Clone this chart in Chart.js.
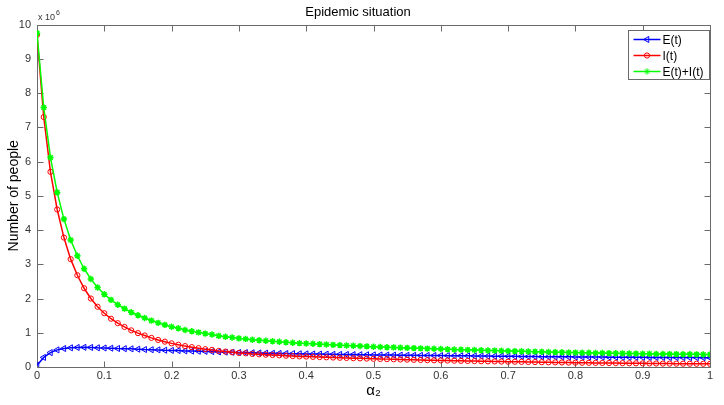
<!DOCTYPE html>
<html>
<head>
<meta charset="utf-8">
<script src="https://cdn.jsdelivr.net/npm/chart.js@4.4.1/dist/chart.umd.min.js"></script>
<style>
  body { margin: 0; background: #fff; }
  canvas { display: block; }
</style>
</head>
<body>
<canvas id="epidemic" width="724" height="405"></canvas>
<script>
// alpha_2 values (x axis)
const alpha = [
  0.00, 0.01, 0.02, 0.03, 0.04, 0.05, 0.06, 0.07, 0.08, 0.09,
  0.10, 0.11, 0.12, 0.13, 0.14, 0.15, 0.16, 0.17, 0.18, 0.19,
  0.20, 0.21, 0.22, 0.23, 0.24, 0.25, 0.26, 0.27, 0.28, 0.29,
  0.30, 0.31, 0.32, 0.33, 0.34, 0.35, 0.36, 0.37, 0.38, 0.39,
  0.40, 0.41, 0.42, 0.43, 0.44, 0.45, 0.46, 0.47, 0.48, 0.49,
  0.50, 0.51, 0.52, 0.53, 0.54, 0.55, 0.56, 0.57, 0.58, 0.59,
  0.60, 0.61, 0.62, 0.63, 0.64, 0.65, 0.66, 0.67, 0.68, 0.69,
  0.70, 0.71, 0.72, 0.73, 0.74, 0.75, 0.76, 0.77, 0.78, 0.79,
  0.80, 0.81, 0.82, 0.83, 0.84, 0.85, 0.86, 0.87, 0.88, 0.89,
  0.90, 0.91, 0.92, 0.93, 0.94, 0.95, 0.96, 0.97, 0.98, 0.99,
  1.00
];

// values in units of 10^6 people
const exposed = [
  0.05, 0.28, 0.42, 0.50, 0.54, 0.56, 0.57, 0.575, 0.57, 0.56,
  0.555, 0.55, 0.54, 0.535, 0.53, 0.52, 0.51, 0.505, 0.50, 0.49,
  0.485, 0.48, 0.47, 0.465, 0.46, 0.455, 0.45, 0.44, 0.435, 0.43,
  0.425, 0.42, 0.415, 0.41, 0.405, 0.40, 0.397, 0.393, 0.39, 0.386,
  0.383, 0.38, 0.377, 0.374, 0.371, 0.368, 0.365, 0.362, 0.359, 0.356,
  0.353, 0.351, 0.349, 0.347, 0.345, 0.343, 0.341, 0.339, 0.337, 0.335,
  0.333, 0.331, 0.329, 0.327, 0.325, 0.323, 0.321, 0.319, 0.317, 0.315,
  0.313, 0.311, 0.309, 0.307, 0.305, 0.303, 0.301, 0.299, 0.297, 0.296,
  0.295, 0.293, 0.292, 0.290, 0.289, 0.288, 0.287, 0.285, 0.284, 0.283,
  0.282, 0.281, 0.280, 0.279, 0.278, 0.277, 0.276, 0.275, 0.274, 0.273,
  0.272
];

const infected = [
  9.70, 7.30, 5.70, 4.60, 3.78, 3.15, 2.68, 2.30, 2.00, 1.76,
  1.57, 1.41, 1.28, 1.17, 1.07, 0.99, 0.92, 0.85, 0.79, 0.74,
  0.69, 0.65, 0.61, 0.58, 0.55, 0.52, 0.50, 0.47, 0.45, 0.43,
  0.41, 0.40, 0.38, 0.37, 0.36, 0.35, 0.34, 0.33, 0.32, 0.31,
  0.305, 0.297, 0.29, 0.283, 0.276, 0.27, 0.264, 0.258, 0.252, 0.246,
  0.24, 0.235, 0.23, 0.225, 0.22, 0.215, 0.21, 0.205, 0.20, 0.196,
  0.192, 0.188, 0.184, 0.18, 0.176, 0.172, 0.168, 0.165, 0.162, 0.159,
  0.156, 0.153, 0.15, 0.147, 0.144, 0.141, 0.138, 0.135, 0.132, 0.129,
  0.126, 0.124, 0.122, 0.12, 0.118, 0.116, 0.114, 0.112, 0.11, 0.108,
  0.106, 0.104, 0.102, 0.10, 0.099, 0.098, 0.097, 0.096, 0.095, 0.094,
  0.093
];

const total = [
  9.75, 7.58, 6.12, 5.10, 4.32, 3.71, 3.25, 2.87, 2.57, 2.32,
  2.125, 1.96, 1.82, 1.705, 1.60, 1.51, 1.43, 1.355, 1.29, 1.23,
  1.175, 1.13, 1.08, 1.045, 1.01, 0.975, 0.95, 0.91, 0.885, 0.86,
  0.835, 0.82, 0.795, 0.78, 0.765, 0.75, 0.737, 0.723, 0.71, 0.696,
  0.688, 0.677, 0.667, 0.657, 0.647, 0.638, 0.629, 0.62, 0.611, 0.602,
  0.593, 0.586, 0.579, 0.572, 0.565, 0.558, 0.551, 0.544, 0.537, 0.531,
  0.525, 0.519, 0.513, 0.507, 0.501, 0.495, 0.489, 0.484, 0.479, 0.474,
  0.469, 0.464, 0.459, 0.454, 0.449, 0.444, 0.439, 0.434, 0.429, 0.425,
  0.421, 0.417, 0.414, 0.41, 0.407, 0.404, 0.401, 0.397, 0.394, 0.391,
  0.388, 0.385, 0.382, 0.379, 0.377, 0.375, 0.373, 0.371, 0.369, 0.367,
  0.365
];

const seriesNames = ['E(t)', 'I(t)', 'E(t)+I(t)'];
const chartTitle = 'Epidemic situation';
const xTitle = 'α₂';
const yTitle = 'Number of people';

const FONT = 'Arial, "Liberation Sans", Helvetica, sans-serif';

function pts(values) {
  return values.map((v, i) => ({ x: alpha[i], y: v }));
}

// box, inward ticks, legend, exponent label
const matlabFrame = {
  id: 'matlabFrame',
  beforeDatasetsDraw(chart) {
    const { ctx, chartArea: a, scales } = chart;
    const L = Math.round(a.left) + 0.5, R = Math.round(a.right) + 0.5;
    const T = Math.round(a.top) + 0.5, B = Math.round(a.bottom) + 0.5;
    ctx.save();
    ctx.strokeStyle = '#6a6a6a';
    ctx.lineWidth = 1;
    ctx.beginPath();
    ctx.rect(L, T, R - L, B - T);
    scales.x.ticks.forEach(t => {
      const px = Math.round(scales.x.getPixelForValue(t.value)) + 0.5;
      ctx.moveTo(px, B); ctx.lineTo(px, B - 6);
      ctx.moveTo(px, T); ctx.lineTo(px, T + 6);
    });
    scales.y.ticks.forEach(t => {
      const py = Math.round(scales.y.getPixelForValue(t.value)) + 0.5;
      ctx.moveTo(L, py); ctx.lineTo(L + 6, py);
      ctx.moveTo(R, py); ctx.lineTo(R - 6, py);
    });
    ctx.stroke();
    ctx.restore();
  },
  afterDraw(chart) {
    const { ctx, chartArea: a } = chart;
    ctx.save();
    // exponent
    ctx.fillStyle = '#333';
    ctx.textBaseline = 'alphabetic';
    ctx.textAlign = 'left';
    ctx.font = '9px ' + FONT;
    ctx.fillText('x 10', a.left + 1, a.top - 5);
    const w = ctx.measureText('x 10').width;
    ctx.font = '7px ' + FONT;
    ctx.fillText('6', a.left + 2 + w, a.top - 10);

    // legend
    const bx = 628.5, by = 30.5, bw = 81, bh = 49;
    ctx.fillStyle = '#fff';
    ctx.fillRect(bx, by, bw, bh);
    ctx.strokeStyle = '#6a6a6a';
    ctx.lineWidth = 1;
    ctx.strokeRect(bx, by, bw, bh);
    chart.data.datasets.forEach((ds, i) => {
      const y = by + 9 + i * 16;
      ctx.strokeStyle = ds.borderColor;
      ctx.lineWidth = 1.5;
      ctx.beginPath();
      ctx.moveTo(bx + 5, y);
      ctx.lineTo(bx + 32, y);
      ctx.stroke();
      ctx.lineWidth = 1;
      ctx.fillStyle = 'rgba(0,0,0,0)';
      Chart.helpers.drawPoint(ctx, {
        pointStyle: ds.pointStyle,
        rotation: ds.pointRotation || 0,
        radius: ds.pointRadius,
        borderWidth: 1
      }, bx + 18.5, y);
      ctx.fillStyle = '#000';
      ctx.font = '12px ' + FONT;
      ctx.textBaseline = 'middle';
      ctx.fillText(ds.label, bx + 34, y + 1);
    });
    ctx.restore();
  }
};

const baseSet = {
  showLine: true,
  borderWidth: 1.5,
  pointBorderWidth: 1,
  pointBackgroundColor: 'rgba(0,0,0,0)',
  tension: 0
};

new Chart(document.getElementById('epidemic').getContext('2d'), {
  type: 'scatter',
  data: {
    datasets: [
      Object.assign({}, baseSet, {
        label: seriesNames[0], data: pts(exposed),
        borderColor: '#0000ff', pointBorderColor: '#0000ff',
        pointStyle: 'triangle', pointRotation: -90, pointRadius: 3.5, order: 3
      }),
      Object.assign({}, baseSet, {
        label: seriesNames[1], data: pts(infected),
        borderColor: '#ff0000', pointBorderColor: '#ff0000',
        pointStyle: 'circle', pointRadius: 2.6, order: 2
      }),
      Object.assign({}, baseSet, {
        label: seriesNames[2], data: pts(total),
        borderColor: '#00ff00', pointBorderColor: '#00ff00',
        pointStyle: 'star', pointRadius: 3.2, pointBorderWidth: 1.5, order: 1
      })
    ]
  },
  options: {
    responsive: false,
    animation: false,
    layout: { padding: { left: 6, right: 14, top: 0, bottom: 5 } },
    plugins: {
      legend: { display: false },
      tooltip: { enabled: false },
      title: {
        display: true,
        text: chartTitle,
        color: '#000',
        font: { family: FONT, size: 13, weight: 'normal' },
        padding: { top: 5, bottom: 4 }
      }
    },
    scales: {
      x: {
        type: 'linear',
        min: 0, max: 1,
        grid: { display: false, drawTicks: false },
        border: { display: false },
        ticks: {
          stepSize: 0.1,
          padding: 2,
          maxRotation: 0,
          color: '#333',
          font: { family: FONT, size: 11 },
          callback: v => String(Math.round(v * 10) / 10)
        },
        title: {
          display: true, text: xTitle, color: '#000',
          font: { family: FONT, size: 15 }, padding: { top: 0, bottom: 0 }
        },
        afterFit(scale) { scale.height = 33; }
      },
      y: {
        type: 'linear',
        min: 0, max: 10,
        grid: { display: false, drawTicks: false },
        border: { display: false },
        ticks: {
          stepSize: 1,
          padding: 6,
          color: '#333',
          font: { family: FONT, size: 11 }
        },
        title: {
          display: true, text: yTitle, color: '#000',
          font: { family: FONT, size: 14 }, padding: { top: 0, bottom: 2 }
        },
        afterFit(scale) { scale.width = 31; }
      }
    }
  },
  plugins: [matlabFrame]
});
</script>
</body>
</html>
